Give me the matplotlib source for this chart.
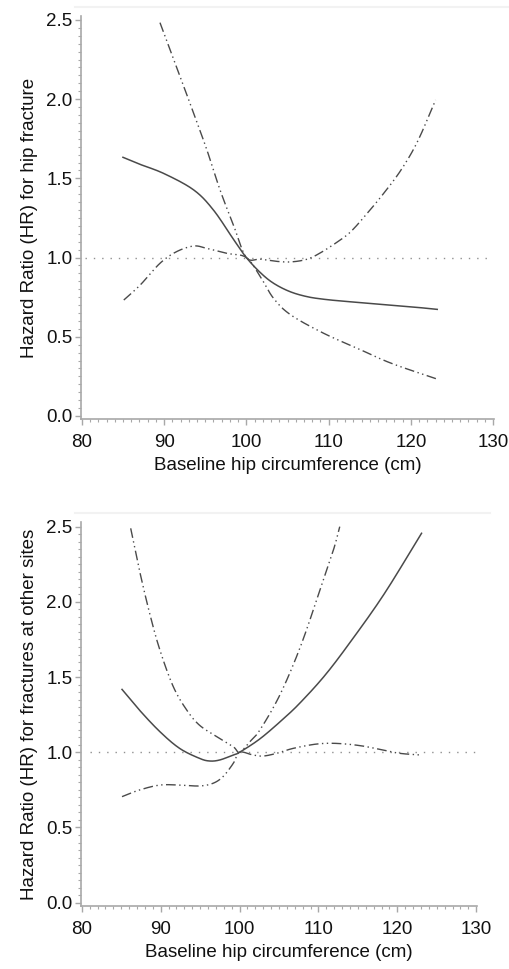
import numpy as np
import matplotlib.pyplot as plt
from matplotlib.ticker import MultipleLocator, FormatStrFormatter

plt.rcParams['font.family'] = ['Liberation Sans', 'DejaVu Sans']

# hip fracture panel
hip_x = [85, 87, 90, 93.6, 96, 98.5, 100, 101.7, 103.3, 105.3, 107.4, 109.4, 111.5, 114.5, 117.6, 120.5, 123.2]
hip_hr = [1.633, 1.59, 1.53, 1.427, 1.30, 1.11, 1.0, 0.905, 0.838, 0.785, 0.753, 0.737, 0.726, 0.713, 0.70, 0.687, 0.673]

hip_up_x = [89.5, 91.5, 93.6, 95.2, 96.8, 98.5, 100, 101.7, 103.7, 105.5, 107.4, 109, 111.1,
            112.7, 114.7, 116.7, 118.8, 120.8, 123]
hip_up = [2.483, 2.205, 1.91, 1.68, 1.427, 1.195, 1.0, 0.99, 0.976, 0.973, 0.99, 1.03, 1.10,
          1.164, 1.28, 1.406, 1.553, 1.732, 1.995]

hip_lo_x = [85.1, 87.1, 89.5, 91.5, 93.6, 95.2, 97.6, 100, 101.7, 103.3, 105.4, 109.4, 113.5,
            117.6, 123.25]
hip_lo = [0.732, 0.827, 0.964, 1.037, 1.073, 1.058, 1.027, 1.0, 0.879, 0.743, 0.638, 0.522, 0.427,
          0.333, 0.232]

# other sites panel
oth_x = [85.1, 87.3, 89.9, 92.4, 94.9, 96.2, 97.5, 99.2, 100, 102.6, 105.5, 107.7, 110.8, 114.0, 118.3, 123.07]
oth_hr = [1.418, 1.281, 1.137, 1.026, 0.96, 0.942, 0.949, 0.982, 1.0, 1.09, 1.22, 1.33, 1.51, 1.73,
          2.05, 2.456]

oth_up_x = [86.2, 87.3, 88.6, 89.9, 91.6, 93.3, 94.9, 97.1, 99.2, 100, 101.3, 102.6, 105.1,
            107.7, 110.2, 111.9, 112.7]
oth_up = [2.489, 2.212, 1.924, 1.68, 1.436, 1.281, 1.181, 1.104, 1.037, 1.0, 1.07, 1.15, 1.38,
          1.70, 2.08, 2.345, 2.5]

oth_lo_x = [85.1, 87.3, 89.9, 92.4, 94.9, 96.6, 97.9, 99.2, 100, 101.7, 103, 104.7, 106.8, 109.8,
            112.3, 115.3, 118.2, 120.3, 122.9]
oth_lo = [0.705, 0.749, 0.782, 0.782, 0.776, 0.793, 0.838, 0.926, 1.0, 0.982, 0.975, 0.993, 1.026,
          1.055, 1.059, 1.044, 1.015, 0.993, 0.982]

xticks = [80, 90, 100, 110, 120, 130]
yticks = [0.0, 0.5, 1.0, 1.5, 2.0, 2.5]

line_col = '#4a4a4a'
axis_col = '#a8a8a8'
ci_dash = (0, (7, 2.5, 1, 2.5, 1, 2.5))


def smooth(x, y):
    # catmull-rom through the read points
    x = np.asarray(x, float)
    y = np.asarray(y, float)
    xs, ys = [], []
    for i in range(len(x) - 1):
        p0 = (x[i - 1], y[i - 1]) if i > 0 else (2 * x[0] - x[1], 2 * y[0] - y[1])
        p1 = (x[i], y[i])
        p2 = (x[i + 1], y[i + 1])
        p3 = (x[i + 2], y[i + 2]) if i + 2 < len(x) else (2 * x[-1] - x[-2], 2 * y[-1] - y[-2])
        t = np.linspace(0, 1, 20, endpoint=False)
        for k in range(2):
            a = [p0[k], p1[k], p2[k], p3[k]]
            v = 0.5 * (2 * a[1] + (-a[0] + a[2]) * t + (2 * a[0] - 5 * a[1] + 4 * a[2] - a[3]) * t ** 2
                       + (-a[0] + 3 * a[1] - 3 * a[2] + a[3]) * t ** 3)
            (xs if k == 0 else ys).extend(v)
    xs.append(x[-1])
    ys.append(y[-1])
    return np.array(xs), np.array(ys)


def panel(ax, hx, hy, ux, uy, lx, ly, ylabel, ref_start):
    ax.plot([ref_start, 130], [1, 1], color='#909090', lw=1, linestyle=(0, (1, 5)))
    ax.plot(*smooth(hx, hy), color=line_col, lw=1.1)
    ax.plot(*smooth(ux, uy), color=line_col, lw=1.0, linestyle=ci_dash)
    ax.plot(*smooth(lx, ly), color=line_col, lw=1.0, linestyle=ci_dash)
    ax.set_xlim(79.9, 130.1)
    ax.set_xticks(xticks)
    ax.set_yticks(yticks)
    ax.yaxis.set_major_formatter(FormatStrFormatter('%.1f'))
    ax.xaxis.set_minor_locator(MultipleLocator(1))
    ax.yaxis.set_minor_locator(MultipleLocator(0.05))
    for s in ['top', 'right']:
        ax.spines[s].set_visible(False)
    for s in ['left', 'bottom']:
        ax.spines[s].set_color(axis_col)
        ax.spines[s].set_linewidth(1.2)
    ax.tick_params(which='major', length=4, width=1, color=axis_col, labelsize=13.5,
                   labelcolor='#111111')
    ax.tick_params(axis='x', which='major', pad=7)
    ax.tick_params(axis='y', which='major', pad=2)
    ax.tick_params(which='minor', length=2, width=0.8, color=axis_col)
    ax.set_xlabel('Baseline hip circumference (cm)', fontsize=13.5, color='#111111', labelpad=4)
    ax.set_ylabel(ylabel, fontsize=13.5, color='#111111', labelpad=6)


fig = plt.figure(figsize=(5.1, 9.69), dpi=100)

ax1 = fig.add_axes([81 / 510, 1 - 419 / 969, 413 / 510, 403 / 969])
panel(ax1, hip_x, hip_hr, hip_up_x, hip_up, hip_lo_x, hip_lo,
      'Hazard Ratio (HR) for hip fracture', 80.4)
ax1.set_ylim(-0.019, 2.525)

ax2 = fig.add_axes([81 / 510, 1 - 906 / 969, 396 / 510, 384 / 969])
panel(ax2, oth_x, oth_hr, oth_up_x, oth_up, oth_lo_x, oth_lo,
      'Hazard Ratio (HR) for fractures at other sites', 81)
ax2.set_ylim(-0.022, 2.531)

# faint frame remnants at the top of each panel
fig.add_artist(plt.Line2D([75 / 510, 1.0], [1 - 7 / 969, 1 - 7 / 969], color='#f2f2f2', lw=1.5))
fig.add_artist(plt.Line2D([75 / 510, 490 / 510], [1 - 513 / 969, 1 - 513 / 969], color='#f2f2f2', lw=1.5))

fig.savefig('out.png', dpi=100, facecolor='white')
